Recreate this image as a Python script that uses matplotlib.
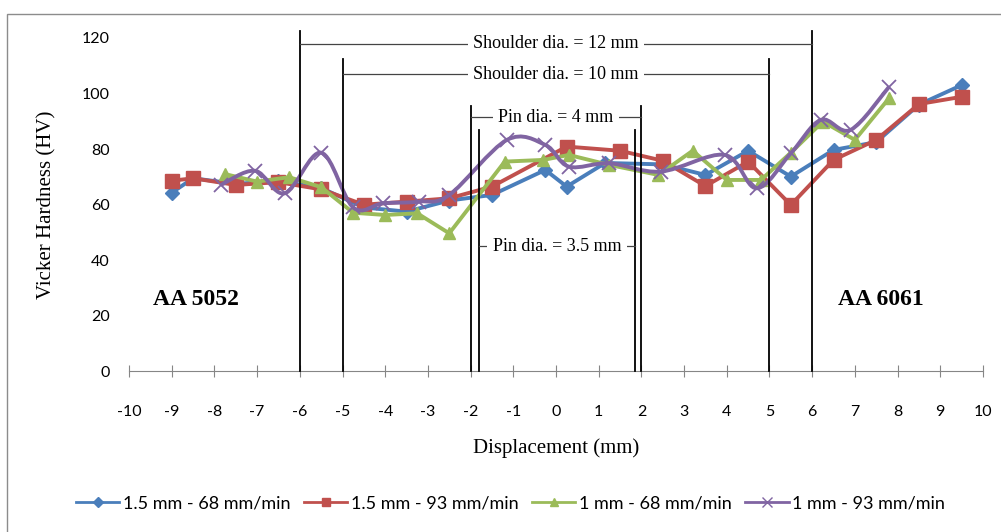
import matplotlib
matplotlib.use("Agg")
import matplotlib.pyplot as plt
import numpy as np
from matplotlib.path import Path
from matplotlib.patches import PathPatch, Rectangle
from matplotlib.lines import Line2D

plt.rcParams["axes.unicode_minus"] = False

# --- data ---
blue_x = [-9, -8.5, -7.5, -6.5, -5.5, -4.5, -3.5, -2.5, -1.5, -0.25, 0.25, 1.15, 2.5, 3.5, 4.5, 5.5, 6.5, 7.5, 8.5, 9.5]
blue_y = [64.3, 69.5, 67.5, 68.5, 66.0, 59.0, 57.5, 61.5, 63.5, 72.5, 66.5, 75.0, 74.5, 70.7, 79.4, 70.1, 79.7, 82.5, 96.0, 103.0]

red_x = [-9, -8.5, -7.5, -6.5, -5.5, -4.5, -3.5, -2.5, -1.5, 0.25, 1.5, 2.5, 3.5, 4.5, 5.5, 6.5, 7.5, 8.5, 9.5]
red_y = [68.6, 69.5, 67.1, 68.1, 65.5, 60.0, 61.1, 62.3, 66.5, 80.9, 79.4, 75.8, 66.7, 75.5, 59.9, 76.1, 83.3, 96.2, 98.8]

green_x = [-7.75, -7.0, -6.25, -5.5, -4.75, -4.0, -3.25, -2.5, -1.2, -0.3, 0.3, 1.25, 2.4, 3.2, 4.0, 4.8, 5.5, 6.25, 7.0, 7.8]
green_y = [71.0, 68.3, 69.9, 66.3, 57.1, 56.3, 56.9, 49.7, 75.5, 76.1, 77.9, 74.3, 70.7, 79.4, 68.9, 68.9, 78.7, 89.9, 83.3, 98.3]

purple_x = [-7.85, -7.05, -6.35, -5.5, -4.75, -4.05, -3.2, -2.5, -1.15, -0.25, 0.3, 1.25, 2.45, 3.95, 4.7, 5.5, 6.2, 6.9, 7.8]
purple_y = [67.1, 72.2, 64.1, 78.7, 59.0, 60.5, 61.1, 63.5, 83.3, 81.5, 73.7, 74.9, 71.9, 77.9, 65.9, 78.5, 90.5, 86.9, 102.4]

series_labels = ["1.5 mm - 68 mm/min", "1.5 mm - 93 mm/min", "1 mm - 68 mm/min", "1 mm - 93 mm/min"]

# tool dimension brackets: left x, right x, top of verticals, y of label line
bracket_names = ["Shoulder dia. = 12 mm", "Shoulder dia. = 10 mm", "Pin dia. = 4 mm", "Pin dia. = 3.5 mm"]
bracket_left = [-6, -5, -2, -1.8]
bracket_right = [6, 5, 2, 1.85]
bracket_top = [122.5, 112.5, 95.5, 87.0]
bracket_label_y = [117.8, 107.0, 91.4, 45.0]

x_ticks = list(range(-10, 11))
y_ticks = list(range(0, 121, 20))

c_blue = "#4a7ebb"
c_red = "#c0504d"
c_green = "#9bbb59"
c_purple = "#8064a2"


def smooth_path(xs, ys):
    # excel style smoothed line (bezier through the points)
    pts = np.column_stack([xs, ys])
    verts = [pts[0]]
    codes = [Path.MOVETO]
    n = len(pts)
    for i in range(n - 1):
        p0 = pts[i - 1] if i > 0 else pts[i]
        p1 = pts[i]
        p2 = pts[i + 1]
        p3 = pts[i + 2] if i + 2 < n else pts[i + 1]
        verts += [p1 + (p2 - p0) / 6, p2 - (p3 - p1) / 6, p2]
        codes += [Path.CURVE4] * 3
    return Path(verts, codes)


fig = plt.figure(figsize=(10.01, 5.32), dpi=100)
ax = fig.add_axes([0.1289, 0.3017, 0.8531, 0.6271])

ax.plot(blue_x, blue_y, color=c_blue, lw=2.8, marker="D", ms=7.5, zorder=3)
ax.plot(red_x, red_y, color=c_red, lw=2.8, marker="s", ms=10, zorder=4)
ax.plot(green_x, green_y, color=c_green, lw=2.8, marker="^", ms=9, zorder=5)
ax.add_patch(PathPatch(smooth_path(purple_x, purple_y), fill=False, edgecolor=c_purple, lw=2.8, zorder=6))
ax.plot(purple_x, purple_y, ls="none", color=c_purple, marker="x", ms=10, mew=1.3, zorder=7)

# brackets
for name, xl, xr, top, ly in zip(bracket_names, bracket_left, bracket_right, bracket_top, bracket_label_y):
    ax.plot([xl, xl], [0, top], color="black", lw=1.3, clip_on=False, zorder=8)
    ax.plot([xr, xr], [0, top], color="black", lw=1.3, clip_on=False, zorder=8)
    ax.plot([xl, xr], [ly, ly], color="#444444", lw=0.9, clip_on=False, zorder=8)
    ax.text((xl + xr) / 2, ly, name, ha="center", va="center", family="Liberation Serif", fontsize=13,
            zorder=9, bbox=dict(boxstyle="square,pad=0.3", fc="white", ec="none"))

ax.text(-9.44, 26, "AA 5052", family="Liberation Serif", fontweight="bold", fontsize=17, va="center")
ax.text(6.6, 26, "AA 6061", family="Liberation Serif", fontweight="bold", fontsize=17, va="center")

ax.set_xlim(-10, 10)
ax.set_ylim(0, 120)
ax.set_xticks(x_ticks)
ax.set_yticks(y_ticks)
for s in ["top", "right", "left"]:
    ax.spines[s].set_visible(False)
ax.spines["bottom"].set_color("#868686")
ax.tick_params(axis="x", direction="inout", length=8, color="#868686", pad=20, labelsize=11.5)
ax.tick_params(axis="y", length=0, pad=14, labelsize=11.5)
for lab in ax.get_xticklabels() + ax.get_yticklabels():
    lab.set_family("Lato")

ax.set_xlabel("Displacement (mm)", family="Liberation Serif", fontsize=15, labelpad=14)
ax.set_ylabel("Vicker Hardness (HV)", family="Liberation Serif", fontsize=15, labelpad=18)

handles = [
    Line2D([], [], color=c_blue, lw=2, marker="D", ms=5),
    Line2D([], [], color=c_red, lw=2, marker="s", ms=6),
    Line2D([], [], color=c_green, lw=2, marker="^", ms=6),
    Line2D([], [], color=c_purple, lw=2, marker="x", ms=7, mew=1),
]
fig.legend(handles, series_labels, loc="center", bbox_to_anchor=(0.51, 0.054), ncol=4, frameon=False,
           prop={"family": "Lato", "size": 13}, handlelength=2.4, columnspacing=0.75, handletextpad=0.2)

# chart frame
fig.patches.append(Rectangle((0.007, -0.01), 1.0, 0.9837, transform=fig.transFigure,
                             fill=False, ec="#8c8c8c", lw=1))

fig.savefig("out.png", dpi=100)
